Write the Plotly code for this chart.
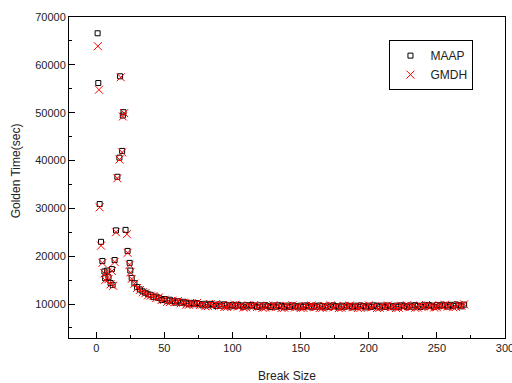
import plotly.graph_objects as go

# Early scattered points (break size, golden time)
maap_x_early = [1, 1.5, 2.5, 3.5, 4.5, 6, 6.5, 8, 9, 10.5, 11.5, 12, 13.5, 14.5, 15.5, 17, 17.5, 19, 19.5, 20, 21.5, 23, 24.5, 25]
maap_y_early = [66600, 56200, 30900, 23000, 19000, 16800, 15400, 17000, 15600, 14400, 17300, 14000, 19200, 25400, 36600, 40600, 57600, 42000, 49400, 50100, 25500, 21100, 18600, 17000]
gmdh_x_early = [1.2, 2, 2.5, 3.5, 4.5, 6, 6.5, 8, 9, 10.5, 11.5, 12.5, 13.5, 14.5, 15.5, 17, 18, 19, 19.5, 20.5, 22.5, 23, 24.5, 25]
gmdh_y_early = [63900, 54800, 30200, 22200, 18600, 16400, 15000, 16600, 15200, 14100, 16900, 13800, 18800, 25000, 36300, 40200, 57400, 41700, 49200, 49900, 24600, 20700, 18200, 16600]

# Main band, break sizes 26 .. 270 (step 2)
band_x = list(range(26, 271, 2))
maap_band = [15450, 14350, 13550, 13050, 12650, 12350, 12050, 11850, 11450, 11550,
             11250, 10850, 11050, 10700, 10900, 10650, 10300, 10580, 10250, 10480,
             10260, 9950, 10250, 9950, 10210, 10020, 9730, 10050, 9770, 10040,
             9860, 9590, 9920, 9650, 9930, 9760, 9490, 9820, 9560, 9850,
             9690, 9430, 9770, 9510, 9800, 9650, 9390, 9730, 9470, 9770,
             9610, 9350, 9700, 9440, 9740, 9580, 9330, 9670, 9410, 9710,
             9560, 9310, 9660, 9410, 9710, 9540, 9320, 9650, 9420, 9700,
             9570, 9300, 9670, 9400, 9720, 9550, 9310, 9640, 9410, 9700,
             9560, 9320, 9660, 9420, 9710, 9570, 9300, 9650, 9400, 9720,
             9560, 9310, 9670, 9410, 9700, 9550, 9320, 9660, 9420, 9730,
             9580, 9340, 9700, 9450, 9760, 9620, 9380, 9730, 9490, 9800,
             9660, 9420, 9780, 9540, 9850, 9710, 9470, 9830, 9590, 9900,
             9760, 9520, 9880]
gmdh_band = [15250, 14250, 13350, 12950, 12450, 12250, 11800, 11750, 11650, 11250,
             11400, 10850, 10900, 10450, 10400, 10700, 10400, 10630, 10150, 10280,
             9860, 9850, 10200, 9950, 10210, 9770, 9930, 9550, 9570, 9940,
             9710, 9990, 9570, 9750, 9380, 9410, 9790, 9570, 9860, 9450,
             9640, 9280, 9320, 9710, 9500, 9800, 9390, 9580, 9220, 9270,
             9660, 9450, 9750, 9340, 9540, 9180, 9230, 9620, 9410, 9710,
             9310, 9510, 9160, 9210, 9610, 9430, 9690, 9330, 9500, 9170,
             9230, 9600, 9400, 9720, 9300, 9520, 9150, 9220, 9620, 9420,
             9700, 9320, 9500, 9170, 9200, 9600, 9430, 9720, 9300, 9520,
             9160, 9230, 9610, 9400, 9700, 9320, 9510, 9170, 9220, 9620,
             9430, 9740, 9350, 9550, 9210, 9270, 9680, 9480, 9790, 9400,
             9610, 9270, 9330, 9740, 9550, 9860, 9470, 9680, 9340, 9400,
             9810, 9620, 9930]

maap_x = maap_x_early + band_x
maap_y = maap_y_early + maap_band
gmdh_x = gmdh_x_early + band_x
gmdh_y = gmdh_y_early + gmdh_band

x_ticks = [0, 50, 100, 150, 200, 250, 300]
y_ticks = [10000, 20000, 30000, 40000, 50000, 60000, 70000]
y_tick_text = ["10000", "20000", "30000", "40000", "50000", "60000", "70000"]

fig = go.Figure()
fig.add_trace(go.Scatter(
    x=maap_x, y=maap_y, mode="markers", name="MAAP",
    marker=dict(symbol="square-open", size=5, color="black", line=dict(width=1, color="black")),
))
fig.add_trace(go.Scatter(
    x=gmdh_x, y=gmdh_y, mode="markers", name="GMDH",
    marker=dict(symbol="x-thin-open", size=8, color="red", line=dict(width=1, color="red")),
))

axis_common = dict(
    showline=True, linecolor="black", linewidth=1, mirror=True,
    ticks="inside", ticklen=6, tickwidth=1, tickcolor="black",
    showgrid=False, zeroline=False, automargin=False,
    tickfont=dict(family="Liberation Sans, Arial, sans-serif", size=11, color="#222"),
)

fig.update_layout(
    width=512, height=383,
    margin=dict(l=69, r=7, t=17, b=45),
    paper_bgcolor="white", plot_bgcolor="white",
    font=dict(family="Liberation Sans, Arial, sans-serif", size=12, color="#222"),
    xaxis=dict(range=[-20, 300], tickvals=x_ticks, ticklabeloverflow="allow",
               minor=dict(dtick=25, tick0=0, ticks="inside", ticklen=3, tickcolor="black"),
               **axis_common),
    yaxis=dict(range=[2900, 70000], tickvals=y_ticks, ticktext=y_tick_text,
               minor=dict(dtick=5000, tick0=0, ticks="inside", ticklen=3, tickcolor="black"),
               **axis_common),
    legend=dict(x=0.735, y=0.928, xanchor="left", yanchor="top",
                bordercolor="black", borderwidth=1, bgcolor="white",
                font=dict(size=12, color="#222")),
    annotations=[
        dict(text="Break Size", xref="paper", yref="paper", x=0.5, y=-0.118,
             xanchor="center", yanchor="middle", showarrow=False,
             font=dict(size=12, color="#222")),
        dict(text="Golden Time(sec)", xref="paper", yref="paper", x=-0.121, y=0.52,
             xanchor="center", yanchor="middle", textangle=-90, showarrow=False,
             font=dict(size=12, color="#222")),
    ],
)

fig.write_html("out.html", config={"displayModeBar": False},
               post_script="document.body.style.margin='0';document.body.style.padding='0';")
